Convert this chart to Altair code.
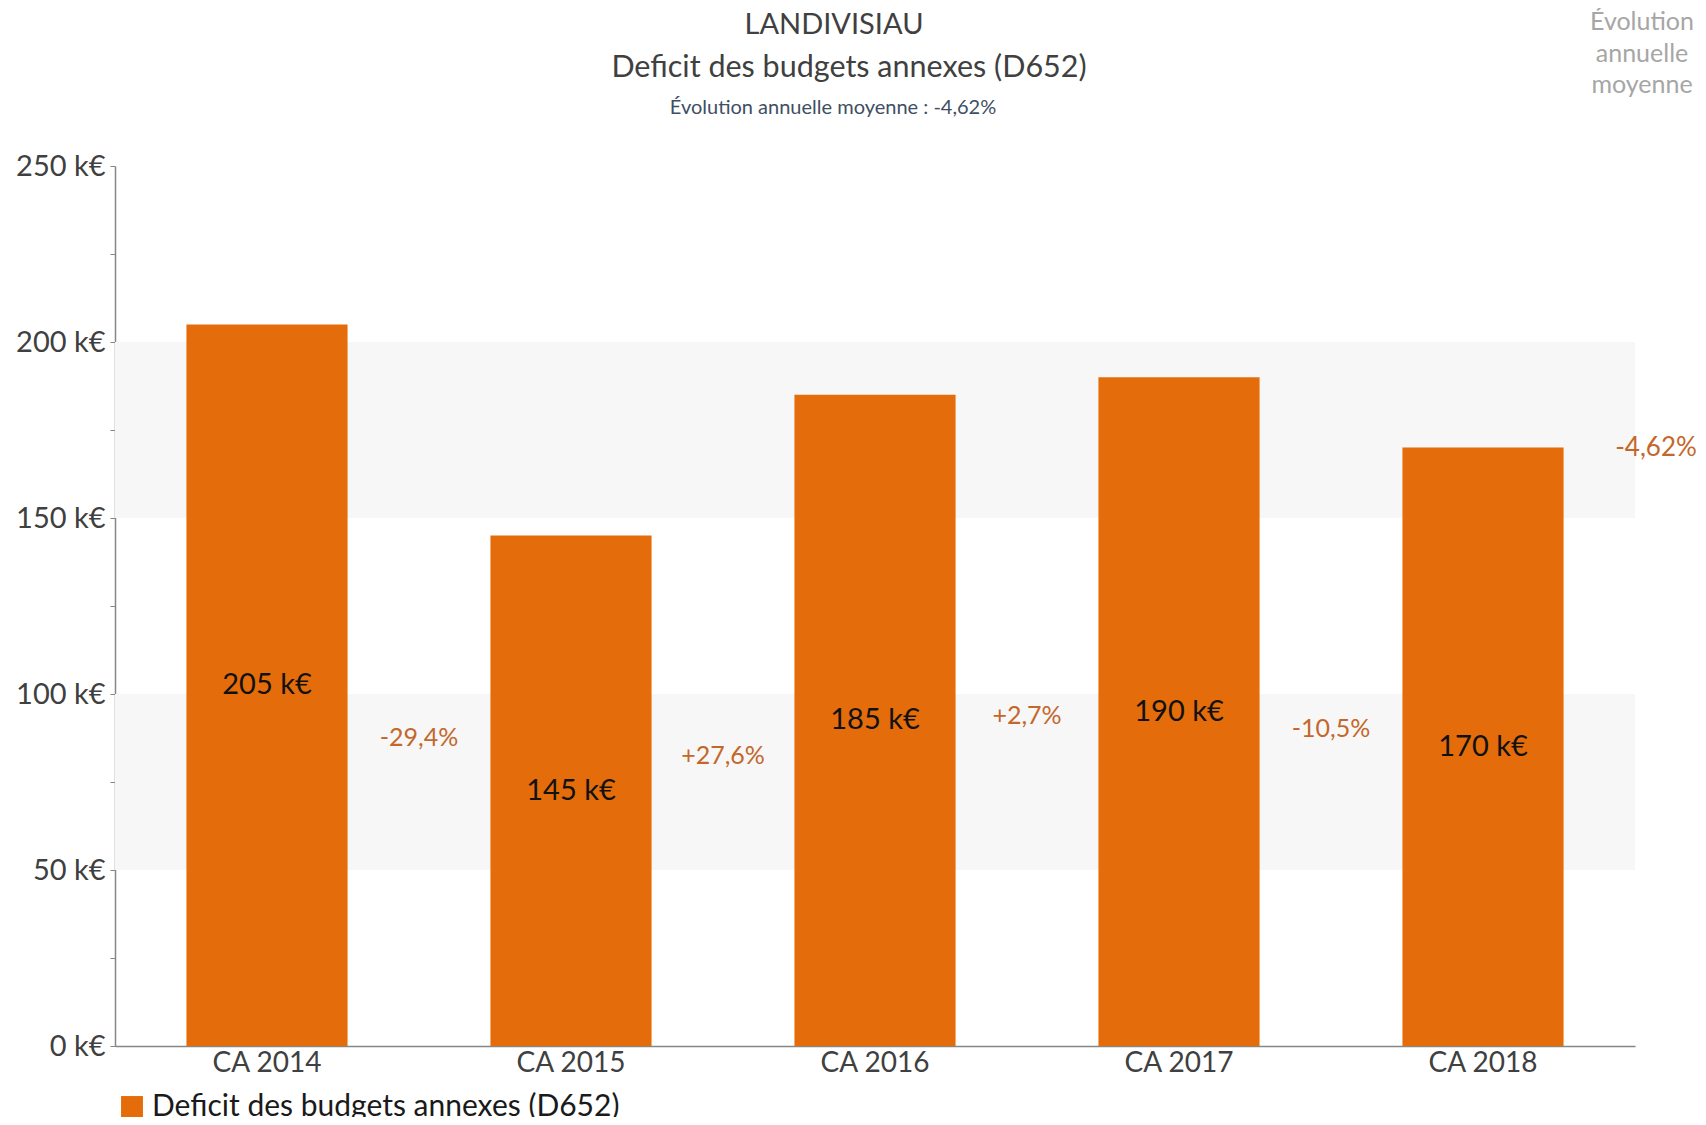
import altair as alt
import pandas as pd

categories = ["CA 2014", "CA 2015", "CA 2016", "CA 2017", "CA 2018"]
values = [205, 145, 185, 190, 170]
value_labels = ["205 k€", "145 k€", "185 k€", "190 k€", "170 k€"]
pct_labels = ["-29,4%", "+27,6%", "+2,7%", "-10,5%"]
avg_label = "-4,62%"
series_name = "Deficit des budgets annexes (D652)"
title_main = "LANDIVISIAU"
title_second = "Deficit des budgets annexes (D652)"
subtitle_text = "Évolution annuelle moyenne : -4,62%"
side_note = "Évolution\nannuelle\nmoyenne"
band_low = [50, 150]
band_high = [100, 200]

FONT = "Lato"
ORANGE = "#E46C0A"
PCT_COLOR = "#C4672B"

bars_df = pd.DataFrame({
    "cat": categories,
    "value": values,
    "label": value_labels,
    "mid": [v / 2 for v in values],
    "series": [series_name] * len(values),
})
pct_df = pd.DataFrame({
    "cat": categories[:-1],
    "label": pct_labels,
    "pos": [(values[i] + values[i + 1]) / 4 for i in range(len(pct_labels))],
})
avg_df = pd.DataFrame({"label": [avg_label], "value": [values[-1]]})
bands_df = pd.DataFrame({"lo": band_low, "hi": band_high})

W, H = 1520, 880

xenc = alt.X("cat:N", sort=categories, title=None,
             scale=alt.Scale(paddingInner=0.47, paddingOuter=0.235),
             axis=alt.Axis(labelAngle=0, labelFontSize=28, labelFont=FONT,
                           labelColor="#404040", ticks=False, labelPadding=3,
                           domainColor="#868686", domainWidth=1.5))
yscale = alt.Scale(domain=[0, 250], nice=False)

bands = alt.Chart(bands_df).mark_rect(color="#f7f7f7").encode(
    x=alt.value(0), x2=alt.value(W),
    y=alt.Y("lo:Q", scale=yscale), y2="hi:Q",
)

bars = alt.Chart(bars_df).mark_bar().encode(
    x=xenc,
    y=alt.Y("value:Q", scale=yscale, title=None,
            axis=alt.Axis(values=list(range(0, 251, 25)),
                          labelExpr="datum.value % 50 == 0 ? datum.value + ' k€' : ''",
                          labelFontSize=29, labelFont=FONT, labelColor="#404040",
                          tickSize=5, tickColor="#868686", labelPadding=5,
                          domainColor="#868686", domainWidth=1.5, grid=False)),
    color=alt.Color("series:N", scale=alt.Scale(range=[ORANGE]),
                    legend=alt.Legend(title=None, orient="none", legendX=2, legendY=926,
                                      symbolType="square", symbolSize=480,
                                      symbolStrokeWidth=0, labelFontSize=30,
                                      labelFont=FONT, labelColor="#1a1a1a",
                                      labelLimit=0, symbolOpacity=1, padding=0,
                                      labelOffset=5)),
)

bar_text = alt.Chart(bars_df).mark_text(fontSize=29, font=FONT, color="#111111").encode(
    x=alt.X("cat:N", sort=categories),
    y=alt.Y("mid:Q", scale=yscale),
    text="label:N",
)

pct_text = alt.Chart(pct_df).mark_text(fontSize=25, font=FONT, color=PCT_COLOR, dx=152).encode(
    x=alt.X("cat:N", sort=categories),
    y=alt.Y("pos:Q", scale=yscale),
    text="label:N",
)

avg_text = alt.Chart(avg_df).mark_text(fontSize=26, font=FONT, color=PCT_COLOR).encode(
    x=alt.value(1541),
    y=alt.Y("value:Q", scale=yscale),
    text="label:N",
)

note_df = pd.DataFrame({"t": [side_note]})
evo_text = alt.Chart(note_df).mark_text(
    fontSize=25, font=FONT, color="#a6a6a6", lineBreak="\n", lineHeight=31.5,
    baseline="middle", align="center"
).encode(x=alt.value(1527), y=alt.value(-144), text="t:N")

t1 = alt.Chart(pd.DataFrame({"t": [title_main]})).mark_text(
    fontSize=29, font=FONT, color="#404040", baseline="middle", align="center"
).encode(x=alt.value(719), y=alt.value(-141), text="t:N")

t2 = alt.Chart(pd.DataFrame({"t": [title_second]})).mark_text(
    fontSize=30.5, font=FONT, color="#404040", baseline="middle", align="center"
).encode(x=alt.value(734), y=alt.value(-98), text="t:N")

sub_text = alt.Chart(pd.DataFrame({"t": [subtitle_text]})).mark_text(
    fontSize=20, font=FONT, color="#3E4E63", baseline="middle", align="center"
).encode(x=alt.value(718), y=alt.value(-58), text="t:N")

chart = alt.layer(bands, bars, bar_text, pct_text, avg_text, evo_text,
                  t1, t2, sub_text).properties(
    width=W, height=H,
    autosize=alt.AutoSizeParams(type="none"),
    padding={"left": 107, "top": 158, "right": 63, "bottom": 71},
).configure_view(stroke=None)

chart.save("out.html", embed_options={"renderer": "svg", "actions": False})
